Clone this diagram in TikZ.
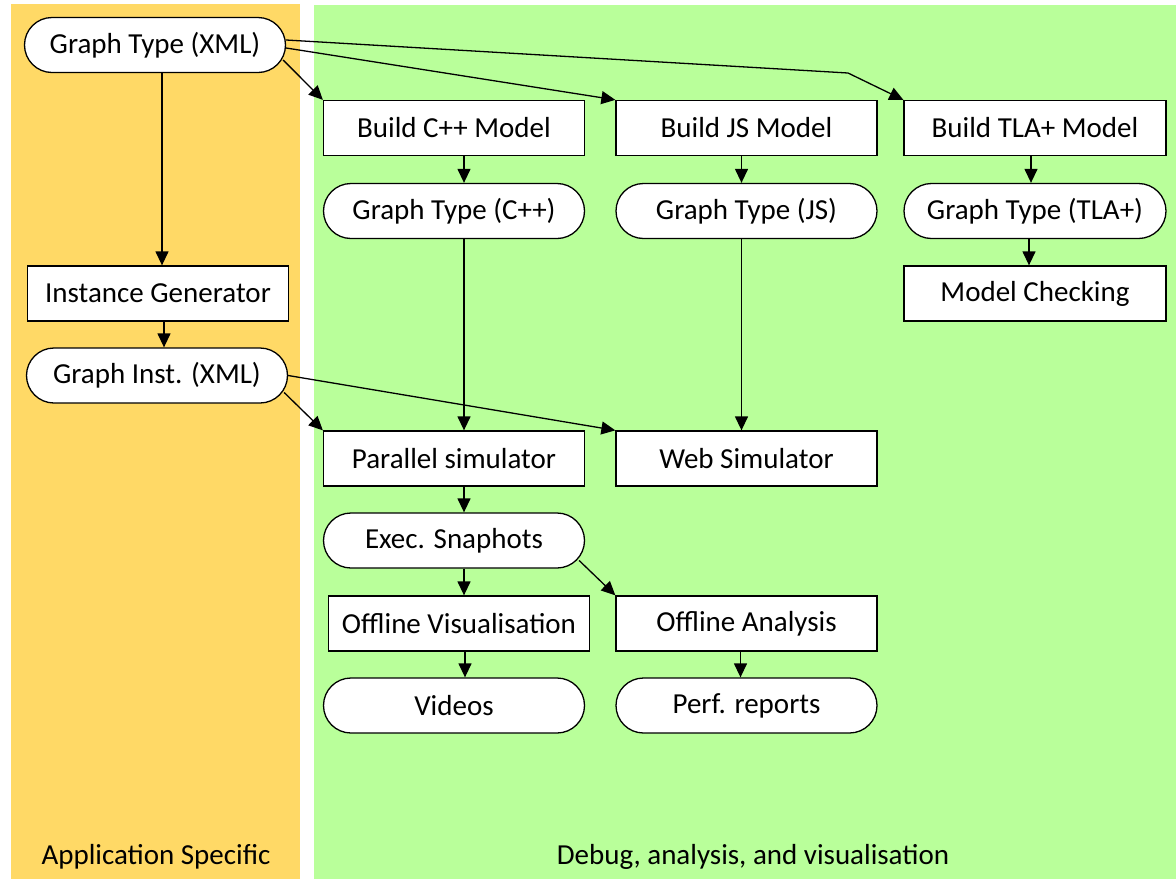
\documentclass[tikz,border=0pt]{standalone}
\usepackage{fontspec}
\setmainfont{Carlito}
\usepackage{tikz}
\usetikzlibrary{shapes.misc,arrows.meta,positioning,calc}
\usepackage{xcolor}
\definecolor{appOrange}{HTML}{FFD966}
\definecolor{dbgGreen}{HTML}{B9FF9A}

\begin{document}
\begin{tikzpicture}[
    x=1pt, y=-1pt,
    font=\fontsize{29}{34}\selectfont,
    boxnode/.style={draw, line width=1.3pt, fill=white, minimum width=261pt, minimum height=55pt, inner sep=0pt},
    datanode/.style={boxnode, rounded rectangle},
    arr/.style={line width=1.3pt, -{Triangle[length=14pt,width=13pt]}},
]
    \useasboundingbox (0,0) rectangle (1176,879);
    % background panels
    \fill[appOrange] (11,4) rectangle (300,879);
    \fill[dbgGreen] (314,5) rectangle (1176,879);
    \node (applbl) at (156,857) {Application Specific};
    \node (dbglbl) at (753,857) {Debug, analysis, and visualisation};

    % application specific column
    \node[datanode] (gtxml) at (155,45) {Graph Type (XML)};
    \node[boxnode] (instgen) at (158,293.5) {Instance Generator};
    \node[datanode] (ginst) at (157,375.5) {Graph Inst. (XML)};

    % model builders
    \node[boxnode] (buildcpp) at (454,128) {Build C++ Model};
    \node[boxnode] (buildjs) at (746.5,128) {Build JS Model};
    \node[boxnode, minimum width=262pt] (buildtla) at (1035,128) {Build TLA+ Model};
    \node[datanode] (gtcpp) at (454,211) {Graph Type (C++)};
    \node[datanode] (gtjs) at (746.5,211) {Graph Type (JS)};
    \node[datanode, minimum width=262pt] (gttla) at (1035,211) {Graph Type (TLA+)};
    \node[boxnode, minimum width=262pt] (modelcheck) at (1035,293.5) {Model Checking};

    % simulation and analysis
    \node[boxnode] (parsim) at (454,458.5) {Parallel simulator};
    \node[boxnode] (websim) at (746.5,458.5) {Web Simulator};
    \node[datanode] (snaps) at (454,540.5) {Exec. Snaphots};
    \node[boxnode] (offvis) at (459,623.5) {Offline Visualisation};
    \node[boxnode] (offana) at (746.5,623.5) {Offline Analysis};
    \node[datanode] (videos) at (454,705.5) {Videos};
    \node[datanode] (perf) at (746.5,705.5) {Perf. reports};

    \coordinate (tlabend) at (848,73);

    % connectors
    \draw[arr] ([xshift=7pt]gtxml.south) -- ([xshift=4pt]instgen.north);
    \draw[arr] ([xshift=6pt]instgen.south) -- ([xshift=7pt]ginst.north);
    \draw[arr] ([shift={(-3pt,-15pt)}]gtxml.east) -- (buildcpp.north west);
    \draw[arr] ([yshift=-3pt]gtxml.east) -- (buildjs.north west);
    \draw[arr] ([yshift=5pt]gtxml.east) -- (tlabend) -- (buildtla.north west);
    \draw[arr] ([xshift=10pt]buildcpp.south) -- ([xshift=10pt]gtcpp.north);
    \draw[arr] ([xshift=-5pt]buildjs.south) -- ([xshift=-5pt]gtjs.north);
    \draw[arr] ([xshift=-4pt]buildtla.south) -- ([xshift=-4pt]gttla.north);
    \draw[arr] ([xshift=-6pt]gttla.south) -- ([xshift=-6pt]modelcheck.north);
    \draw[arr] ([xshift=10pt]gtcpp.south) -- ([xshift=10pt]parsim.north);
    \draw[arr] ([xshift=-5pt]gtjs.south) -- ([xshift=-5pt]websim.north);
    \draw[arr] ([shift={(-4pt,-17pt)}]ginst.east) -- (parsim.north west);
    \draw[arr] (ginst.east) -- (websim.north west);
    \draw[arr] ([xshift=10pt]parsim.south) -- ([xshift=10pt]snaps.north);
    \draw[arr] ([xshift=10pt]snaps.south) -- ([xshift=5pt]offvis.north);
    \draw[arr] ([shift={(-6pt,-20pt)}]snaps.east) -- (offana.north west);
    \draw[arr] ([xshift=6pt]offvis.south) -- ([xshift=11pt]videos.north);
    \draw[arr] ([xshift=-6pt]offana.south) -- ([xshift=-6pt]perf.north);
\end{tikzpicture}
\end{document}
